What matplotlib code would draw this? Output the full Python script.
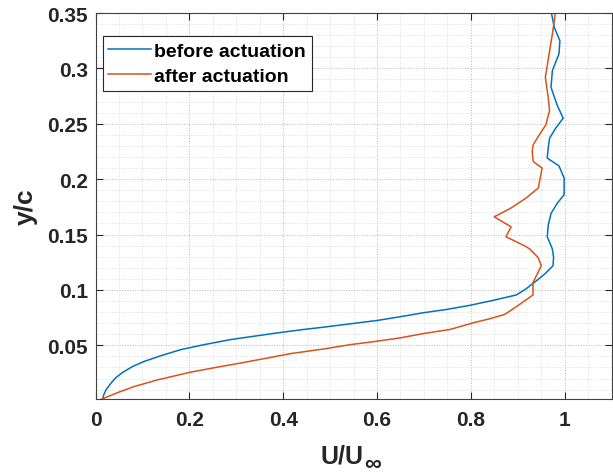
import numpy as np
import matplotlib
matplotlib.use('Agg')
import matplotlib.pyplot as plt
from matplotlib.ticker import MultipleLocator

# velocity profiles (U/U_inf vs y/c)
y_before = [0.0012, 0.0052, 0.0097, 0.0158, 0.0209, 0.0255, 0.0309, 0.0355, 0.0406,
            0.0461, 0.0506, 0.0552, 0.0582, 0.0612, 0.0643, 0.0664, 0.0694, 0.0724,
            0.0758, 0.0794, 0.0824, 0.0861, 0.0906, 0.0955, 0.1012, 0.1082, 0.1143,
            0.1218, 0.1294, 0.137, 0.140, 0.148, 0.158, 0.169, 0.178, 0.186, 0.201,
            0.212, 0.219, 0.228, 0.237, 0.246, 0.255, 0.267, 0.283, 0.298, 0.313,
            0.325, 0.337, 0.352]
u_before = [0.0152, 0.0174, 0.0223, 0.0329, 0.0436, 0.0577, 0.079, 0.1038, 0.1392,
            0.1817, 0.2313, 0.288, 0.3376, 0.3872, 0.4438, 0.4863, 0.543, 0.5997,
            0.6493, 0.6989, 0.7485, 0.7981, 0.8477, 0.8973, 0.9185, 0.9398, 0.9575,
            0.9752, 0.9766, 0.9738, 0.971, 0.963, 0.965, 0.971, 0.984, 0.999, 0.999,
            0.988, 0.963, 0.965, 0.968, 0.981, 0.997, 0.984, 0.971, 0.974, 0.988,
            0.990, 0.978, 0.971]

y_after = [0.0012, 0.0073, 0.0128, 0.0188, 0.0258, 0.0303, 0.034, 0.0385, 0.0425,
           0.0467, 0.0506, 0.0537, 0.0567, 0.0606, 0.0643, 0.0703, 0.074, 0.0779,
           0.087, 0.0955, 0.1067, 0.1158, 0.1218, 0.1294, 0.137, 0.140, 0.148,
           0.157, 0.166, 0.174, 0.183, 0.192, 0.210, 0.216, 0.225, 0.231, 0.240,
           0.249, 0.262, 0.274, 0.292, 0.313, 0.331, 0.352]
u_after = [0.0117, 0.0471, 0.0825, 0.1321, 0.203, 0.2597, 0.3092, 0.3659, 0.4155,
           0.4863, 0.543, 0.5997, 0.6493, 0.6989, 0.7556, 0.8052, 0.8406, 0.8725,
           0.9044, 0.9327, 0.9327, 0.9433, 0.9504, 0.9433, 0.9256, 0.914, 0.875,
           0.886, 0.850, 0.886, 0.918, 0.944, 0.952, 0.933, 0.931, 0.933, 0.946,
           0.960, 0.968, 0.965, 0.959, 0.967, 0.974, 0.981]

x_ticks = [0, 0.2, 0.4, 0.6, 0.8, 1]
x_ticklabels = ['0', '0.2', '0.4', '0.6', '0.8', '1']
y_ticks = [0.05, 0.1, 0.15, 0.2, 0.25, 0.3, 0.35]
y_ticklabels = ['0.05', '0.1', '0.15', '0.2', '0.25', '0.3', '0.35']

plt.rcParams['font.family'] = ['Liberation Sans', 'DejaVu Sans']
plt.rcParams['font.weight'] = 'bold'

W, H = 613, 477
fig = plt.figure(figsize=(W / 100, H / 100), dpi=100)
ax = fig.add_axes([95.5 / W, 1 - 399.5 / H, (611.5 - 95.5) / W, (399.5 - 14) / H])

ax.plot(u_before, y_before, color='#0072BD', lw=1.1, label='before actuation')
ax.plot(u_after, y_after, color='#D95319', lw=1.1, label='after actuation')

ax.set_xlim(0, 1.1)
ax.set_ylim(0.002, 0.35)
ax.set_xticks(x_ticks)
ax.set_xticklabels(x_ticklabels)
ax.set_yticks(y_ticks)
ax.set_yticklabels(y_ticklabels)
ax.xaxis.set_minor_locator(MultipleLocator(0.05))
ax.yaxis.set_minor_locator(MultipleLocator(0.01))

ax.grid(which='major', ls=':', color='#b8b8b8', lw=0.7)
ax.grid(which='minor', ls=':', color='#d6d6d6', lw=0.6)
ax.set_axisbelow(True)

ax.tick_params(which='both', direction='in', top=True, right=True,
               labelsize=15, colors='#262626')
ax.tick_params(which='major', length=5, width=0.8)
ax.tick_params(which='minor', length=0)
ax.tick_params(axis='x', pad=8)
ax.tick_params(axis='y', pad=5.5)
for s in ax.spines.values():
    s.set_color('#404040')
    s.set_linewidth(0.8)

# x label: MATLAB-style U/U with a large infinity subscript
fig.text(363 / W, 1 - 464 / H, 'U/U', fontsize=18, fontweight='bold',
         color='#262626', ha='right', va='baseline')
fig.text(364 / W, 1.5 / H, '\u221e', fontsize=17, fontweight='bold',
         color='#262626', ha='left', va='bottom')
ax.set_ylabel('y/c', fontsize=19, fontweight='bold', labelpad=7, color='#262626')

leg = ax.legend(loc='upper left', bbox_to_anchor=(0.0136, 0.94), fontsize=14,
                fancybox=False, edgecolor='#262626', framealpha=1,
                handlelength=2.2, handletextpad=0.15, borderpad=0.3,
                labelspacing=0.4, borderaxespad=0)
leg.get_frame().set_linewidth(0.8)

fig.savefig('out.png', dpi=100)
